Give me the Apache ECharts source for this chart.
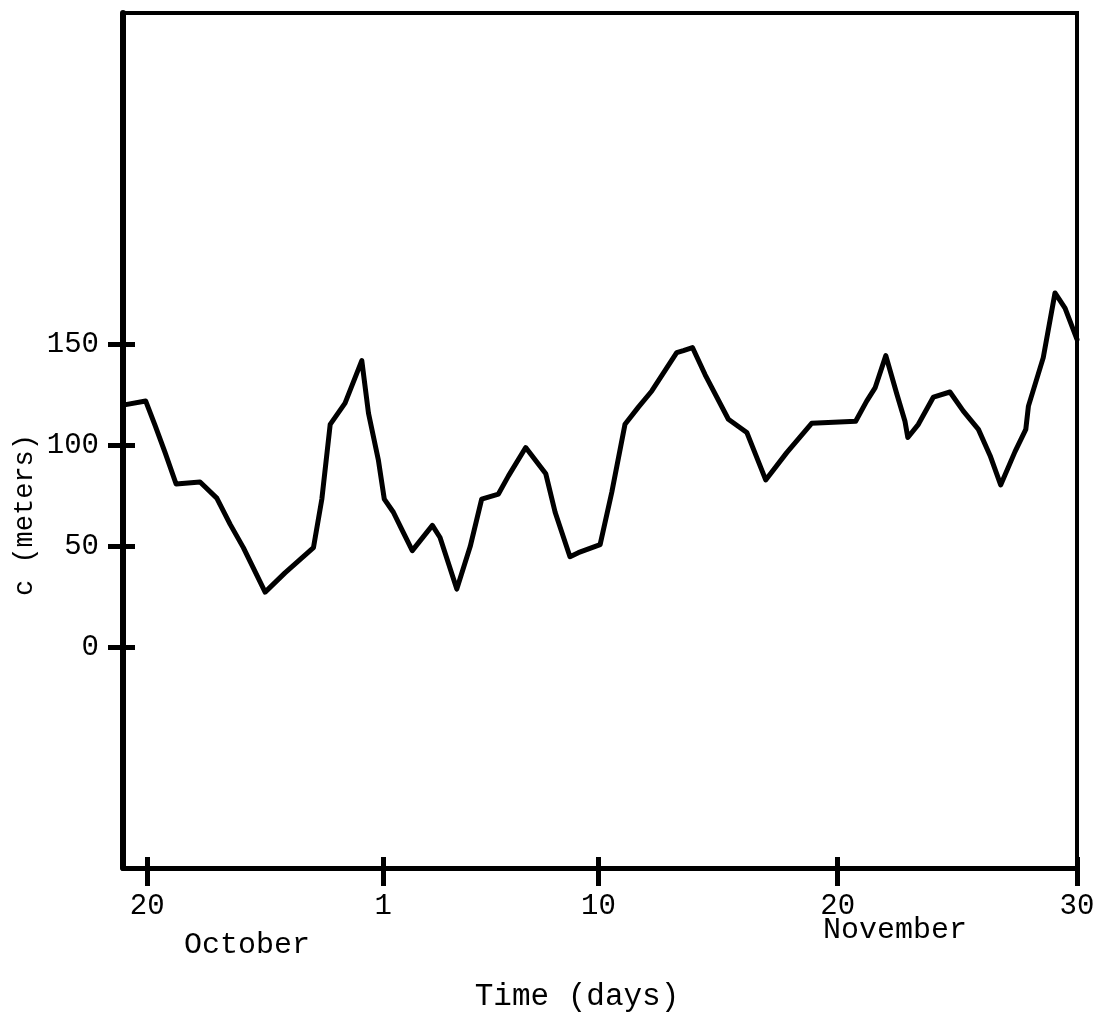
<!DOCTYPE html>
<html>
<head>
<meta charset="utf-8">
<script src="https://cdn.jsdelivr.net/npm/echarts@6/dist/echarts.min.js"></script>
<style>
  html, body { margin: 0; padding: 0; background: #fff; }
  #main { width: 1103px; height: 1016px; }
</style>
</head>
<body>
<div id="main"></div>
<script>
// day position on the drawn time axis (Nov 1 = 1, October days to the left)
const dayPos = [-9.87, -8.92, -8.53, -8.11, -7.65, -6.65, -5.95, -5.39, -4.84, -3.93,
  -3.10, -1.91, -1.56, -1.21, -0.59, 0.11, 0.39, 0.80, 1.05, 1.43,
  1.78, 2.22, 3.06, 3.38, 4.08, 4.64, 5.12, 5.82, 6.24, 6.96,
  7.80, 8.19, 8.81, 9.16, 10.07, 10.56, 11.11, 11.67, 12.23, 13.27,
  13.55, 13.93, 14.46, 15.43, 16.20, 16.99, 17.87, 18.91, 20.75, 21.21,
  21.56, 22.01, 22.47, 22.81, 22.93, 23.37, 24.00, 24.69, 25.25, 25.88,
  26.37, 26.81, 27.41, 27.86, 27.97, 28.59, 29.08, 29.50, 30];
const cValues = [120, 122, 110, 96.5, 81, 82, 74, 61, 49.5, 27.5,
  37, 49.5, 73.5, 110.5, 121, 142, 116, 93, 73.5, 67,
  58.5, 48, 60.5, 54.5, 29, 50, 73.5, 76, 85, 99,
  86, 67, 45, 47, 51, 77, 110.5, 119, 127, 146,
  147, 148.5, 135, 113, 106.5, 83, 96.5, 111, 112, 122,
  128.5, 144.5, 125.5, 112, 104, 110.5, 124, 126.5, 117, 108,
  95, 80.5, 97, 108, 119.5, 143.5, 175.5, 168, 152.5];

const xTickPos = [-8.86, 1, 10, 20, 30];
const xTickText = ["20", "1", "10", "20", "30"];
const yTicks = [0, 50, 100, 150];

const font = "Liberation Mono";
const chart = echarts.init(document.getElementById("main"));

const xLabel = (v) => {
  const i = xTickPos.findIndex((p) => Math.abs(p - v) < 0.01);
  return i >= 0 ? xTickText[i] : "";
};

const xBase = {
  type: "value",
  min: -9.87,
  max: 30,
  position: "bottom",
  splitLine: { show: false },
};
const yBase = {
  type: "value",
  min: -109,
  max: 314,
  position: "left",
  splitLine: { show: false },
};

const option = {
  animation: false,
  grid: {
    left: 123,
    right: 26,
    top: 13,
    bottom: 148,
    show: true,
    borderColor: "#000",
    borderWidth: 4,
  },
  xAxis: [
    {
      ...xBase,
      axisLine: { onZero: false, lineStyle: { color: "#000", width: 5 } },
      axisTick: {
        customValues: xTickPos,
        length: 18,
        lineStyle: { color: "#000", width: 5 },
      },
      axisLabel: {
        customValues: xTickPos,
        formatter: xLabel,
        margin: 24,
        color: "#000",
        fontFamily: font,
        fontSize: 29,
      },
    },
    {
      ...xBase,
      axisLine: { show: false, onZero: false },
      axisTick: {
        customValues: xTickPos,
        inside: true,
        length: 11,
        lineStyle: { color: "#000", width: 5 },
      },
      axisLabel: { show: false },
    },
  ],
  yAxis: [
    {
      ...yBase,
      axisLine: { show: true, onZero: false, lineStyle: { color: "#000", width: 6 } },
      axisTick: {
        customValues: yTicks,
        length: 15,
        lineStyle: { color: "#000", width: 5 },
      },
      axisLabel: {
        customValues: yTicks,
        margin: 24,
        color: "#000",
        fontFamily: font,
        fontSize: 29,
      },
    },
    {
      ...yBase,
      axisLine: { show: false, onZero: false },
      axisTick: {
        customValues: yTicks,
        inside: true,
        length: 12,
        lineStyle: { color: "#000", width: 5 },
      },
      axisLabel: { show: false },
    },
  ],
  graphic: [
    {
      type: "text",
      x: 25,
      y: 515,
      rotation: Math.PI / 2,
      style: {
        text: "c (meters)",
        fontFamily: font,
        fontSize: 27,
        fill: "#000",
        align: "center",
        verticalAlign: "middle",
      },
    },
    {
      type: "text",
      x: 247,
      y: 945,
      style: {
        text: "October",
        fontFamily: font,
        fontSize: 30,
        fill: "#000",
        align: "center",
        verticalAlign: "middle",
      },
    },
    {
      type: "text",
      x: 895,
      y: 930,
      style: {
        text: "November",
        fontFamily: font,
        fontSize: 30,
        fill: "#000",
        align: "center",
        verticalAlign: "middle",
      },
    },
    {
      type: "text",
      x: 577,
      y: 997,
      style: {
        text: "Time (days)",
        fontFamily: font,
        fontSize: 31,
        fill: "#000",
        align: "center",
        verticalAlign: "middle",
      },
    },
  ],
  series: [
    {
      type: "line",
      data: dayPos.map((d, i) => [d, cValues[i]]),
      showSymbol: false,
      lineStyle: { color: "#000", width: 5, join: "round", cap: "round" },
    },
  ],
};

chart.setOption(option);
</script>
</body>
</html>
